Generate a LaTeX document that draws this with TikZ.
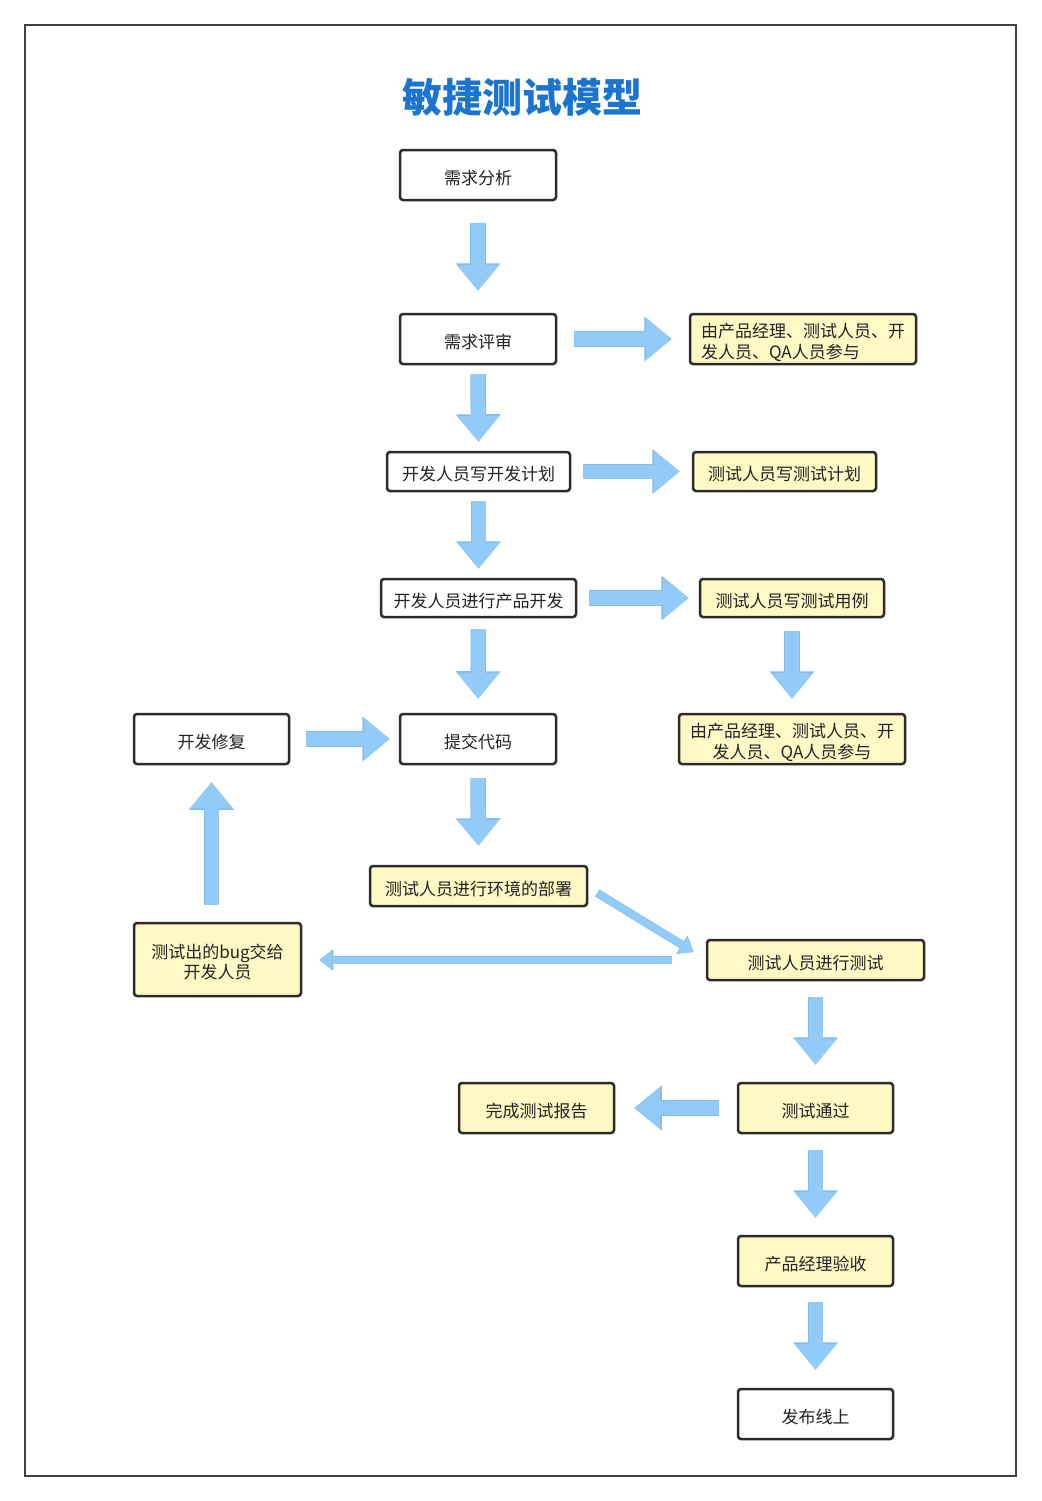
\documentclass[tikz,border=0pt]{standalone}
\usepackage{fontspec}
\newfontfamily\cjk{Noto Sans CJK SC}
\usetikzlibrary{arrows.meta,calc}
\definecolor{boxline}{HTML}{2B2B2B}
\definecolor{yel}{HTML}{FFF9C6}
\definecolor{afill}{HTML}{92CBF7}
\definecolor{aline}{HTML}{7FBDF0}
\definecolor{titleblue}{HTML}{1B75D0}
\definecolor{txt}{HTML}{222222}
\newcommand\lw[1]{\raisebox{-3pt}[\height][\depth]{#1}}
\newcommand\twol[2]{\raisebox{-5pt}[\height][\depth]{\begin{tabular}{@{}#1@{}}#2\end{tabular}}}
\begin{document}
\begin{tikzpicture}[x=1pt,y=-1pt,
  box/.style={draw=boxline, line width=2.5pt, rounded corners=3pt, fill=white,
    inner sep=0pt, align=center, text=txt, font=\cjk\fontsize{17}{20}\selectfont},
  ybox/.style={box, fill=yel},
  fat/.style={draw=afill, line width=14pt, -{Triangle[length=26pt,width=41pt]},
    preaction={draw=aline, line width=15.5pt, -{Triangle[length=27.5pt,width=43pt]}}},
  thin/.style={draw=afill, line width=7pt, -{Triangle[length=13pt,width=19pt]},
    preaction={draw=aline, line width=8.2pt, -{Triangle[length=14pt,width=20.5pt]}}},
]
\useasboundingbox (0,0) rectangle (1041,1501);
\fill[white] (0,0) rectangle (1041,1501);
\draw[boxline!90, line width=1.5pt] (25,25) rectangle (1016,1476);

\node[font=\cjk\bfseries\fontsize{40}{44}\selectfont, text=titleblue] (title) at (522,97) {敏捷测试模型};

\node[box, minimum width=156pt, minimum height=50pt] (n1) at (478,175) {\lw{需求分析}};
\node[box, minimum width=156pt, minimum height=50pt] (n2) at (478,339) {\lw{需求评审}};
\node[ybox, minimum width=226pt, minimum height=50pt] (r1) at (803,339)
  {\makebox[204pt][l]{\twol{l}{由产品经理、测试人员、开\\发人员、QA人员参与}}};
\node[box, minimum width=183pt, minimum height=39pt] (n3) at (478.5,471.5) {\lw{开发人员写开发计划}};
\node[ybox, minimum width=183pt, minimum height=39pt] (r2) at (784.5,471.5) {\lw{测试人员写测试计划}};
\node[box, minimum width=195pt, minimum height=38pt] (n4) at (478.5,598) {\lw{开发人员进行产品开发}};
\node[ybox, minimum width=184pt, minimum height=38pt] (r3) at (792,598) {\lw{测试人员写测试用例}};
\node[ybox, minimum width=226pt, minimum height=50pt] (r4) at (792,739)
  {\twol{c}{由产品经理、测试人员、开\\发人员、QA人员参与}};
\node[box, minimum width=155pt, minimum height=50pt] (fix) at (211.5,739) {\lw{开发修复}};
\node[box, minimum width=156pt, minimum height=50pt] (n5) at (478,739) {\lw{提交代码}};
\node[ybox, minimum width=217pt, minimum height=40pt] (n6) at (478.5,886) {\lw{测试人员进行环境的部署}};
\node[ybox, minimum width=217pt, minimum height=40pt] (t1) at (815.5,960) {\lw{测试人员进行测试}};
\node[ybox, minimum width=167pt, minimum height=73pt] (bug) at (217.5,959.5) {\twol{c}{测试出的bug交给\\开发人员}};
\node[ybox, minimum width=155pt, minimum height=50pt] (pass) at (815.5,1108) {\lw{测试通过}};
\node[ybox, minimum width=155pt, minimum height=50pt] (report) at (536.5,1108) {\lw{完成测试报告}};
\node[ybox, minimum width=155pt, minimum height=50pt] (accept) at (815.5,1261) {\lw{产品经理验收}};
\node[box, minimum width=155pt, minimum height=50pt] (release) at (815.5,1414) {\lw{发布线上}};

% vertical main flow
\draw[fat, shorten <=22pt, shorten >=22pt] (n1.south) -- (n2.north);
\draw[fat, shorten <=9pt, shorten >=9pt] (n2.south) -- (n3.north);
\draw[fat, shorten <=9pt, shorten >=9pt] (n3.south) -- (n4.north);
\draw[fat, shorten <=11pt, shorten >=14pt] (n4.south) -- (n5.north);
\draw[fat, shorten <=13pt, shorten >=19pt] (n5.south) -- (n6.north);
% right branch
\draw[fat, shorten <=17pt, shorten >=17pt] (n2.east) -- (r1.west);
\draw[fat, shorten <=12pt, shorten >=12pt] (n3.east) -- (r2.west);
\draw[fat, shorten <=12pt, shorten >=10pt] (n4.east) -- (r3.west);
\draw[fat, shorten <=13pt, shorten >=14pt] (r3.south) -- (r4.north);
% fix loop
\draw[fat, shorten <=16pt, shorten >=9pt] (fix.east) -- (n5.west);
\draw[fat, shorten <=17pt, shorten >=17pt] (bug.north -| fix.south) -- (fix.south);
% deploy -> test
\coordinate (d1) at ([shift={(9,7)}]n6.east);
\coordinate (d2) at ([shift={(-12,-8)}]t1.west);
\draw[thin] (d1) -- (d2);
\draw[thin, shorten <=34pt, shorten >=17pt] (t1.west) -- (bug.east |- t1.west);
% lower flow
\draw[fat, shorten <=16pt, shorten >=17pt] (t1.south) -- (pass.north);
\draw[fat, shorten <=18pt, shorten >=19pt] (pass.west) -- (report.east);
\draw[fat, shorten <=16pt, shorten >=17pt] (pass.south) -- (accept.north);
\draw[fat, shorten <=15pt, shorten >=18pt] (accept.south) -- (release.north);
\end{tikzpicture}
\end{document}
